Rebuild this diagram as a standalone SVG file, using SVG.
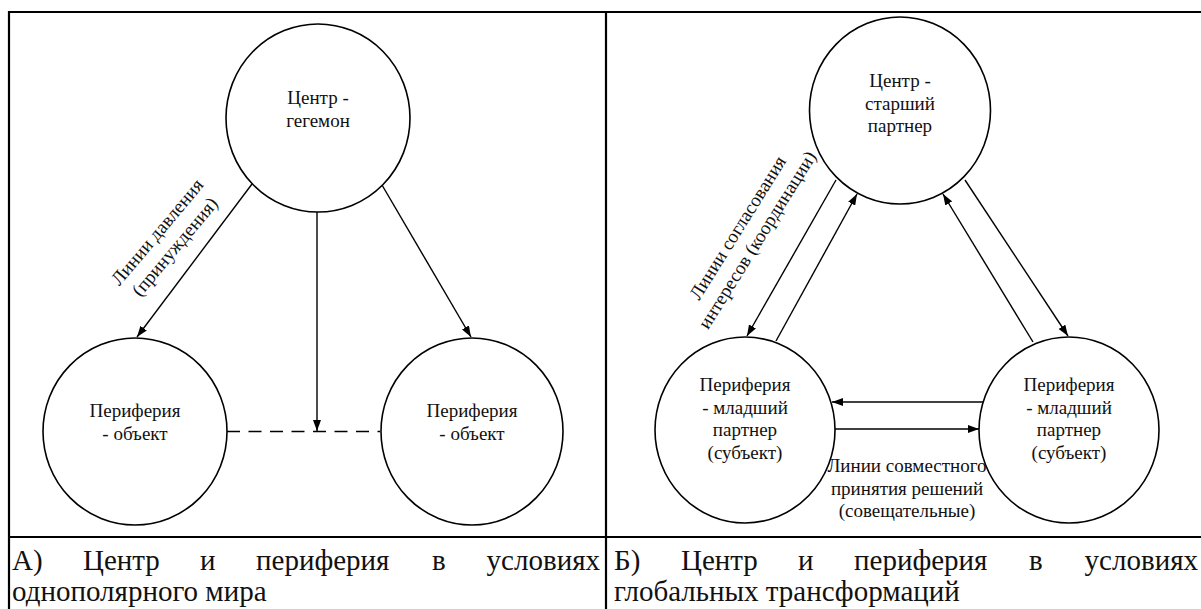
<svg xmlns="http://www.w3.org/2000/svg" width="1201" height="609" viewBox="0 0 1201 609">
<defs>
<marker id="ah" markerUnits="userSpaceOnUse" markerWidth="11" markerHeight="8" refX="11" refY="4" orient="auto">
<path d="M0,0 L11,4 L0,8 z" fill="#000"/>
</marker>
</defs>
<rect width="1201" height="609" fill="#fff"/>
<g id="table" stroke="#000" stroke-width="2.2" fill="none">
<line x1="9" y1="12" x2="1201" y2="12"/>
<line x1="9" y1="11" x2="9" y2="609"/>
<line x1="606" y1="11" x2="606" y2="609"/>
<line x1="9" y1="537" x2="1201" y2="537"/>
</g>
<g id="connectors" stroke="#000" stroke-width="1.4" fill="none">
<line x1="252" y1="184" x2="137" y2="337" marker-end="url(#ah)"/>
<line x1="382" y1="185" x2="471" y2="337" marker-end="url(#ah)"/>
<line x1="317" y1="212" x2="317" y2="431" marker-end="url(#ah)"/>
<line x1="227" y1="431.5" x2="380" y2="431.5" stroke-dasharray="13 8.5" stroke-width="1.6"/>
<line x1="836" y1="180" x2="747" y2="336" marker-end="url(#ah)"/>
<line x1="776" y1="341" x2="857" y2="194" marker-end="url(#ah)"/>
<line x1="1033" y1="342" x2="943" y2="194" marker-end="url(#ah)"/>
<line x1="965" y1="180" x2="1068" y2="336" marker-end="url(#ah)"/>
<line x1="983" y1="402" x2="832" y2="402" marker-end="url(#ah)"/>
<line x1="835" y1="429" x2="979" y2="429" marker-end="url(#ah)"/>
</g>
<g font-size="19" text-anchor="middle" fill="#111">
<g id="a-center">
<ellipse cx="318" cy="118" rx="92" ry="94" fill="#fff" stroke="#000" stroke-width="1.6"/>
<text font-family="Liberation Serif" x="318" y="104">Центр -</text>
<text font-family="Liberation Serif" x="318" y="127">гегемон</text>
</g>
<g id="a-left">
<ellipse cx="135" cy="431.5" rx="92" ry="93.5" fill="#fff" stroke="#000" stroke-width="1.6"/>
<text font-family="Liberation Serif" x="135" y="417">Периферия</text>
<text font-family="Liberation Serif" x="135" y="439.5">- объект</text>
</g>
<g id="a-right">
<ellipse cx="472" cy="431.5" rx="91" ry="93.5" fill="#fff" stroke="#000" stroke-width="1.6"/>
<text font-family="Liberation Serif" x="472" y="417">Периферия</text>
<text font-family="Liberation Serif" x="472" y="439.5">- объект</text>
</g>
<g id="a-label" transform="translate(162,236) rotate(-50)">
<text font-family="Liberation Serif" x="0" y="0">Линии давления</text>
<text font-family="Liberation Serif" x="0" y="23">(принуждения)</text>
</g>
<g id="b-center">
<ellipse cx="900" cy="110.5" rx="90.5" ry="93.5" fill="#fff" stroke="#000" stroke-width="1.6"/>
<text font-family="Liberation Serif" x="900" y="87">Центр -</text>
<text font-family="Liberation Serif" x="900" y="109.5">старший</text>
<text font-family="Liberation Serif" x="900" y="132">партнер</text>
</g>
<g id="b-left">
<ellipse cx="745" cy="430" rx="90" ry="93" fill="#fff" stroke="#000" stroke-width="1.6"/>
<text font-family="Liberation Serif" x="745" y="391">Периферия</text>
<text font-family="Liberation Serif" x="745" y="413.5">- младший</text>
<text font-family="Liberation Serif" x="745" y="436">партнер</text>
<text font-family="Liberation Serif" x="745" y="458.5">(субъект)</text>
</g>
<g id="b-right">
<ellipse cx="1069" cy="430" rx="90" ry="93" fill="#fff" stroke="#000" stroke-width="1.6"/>
<text font-family="Liberation Serif" x="1069" y="391">Периферия</text>
<text font-family="Liberation Serif" x="1069" y="413.5">- младший</text>
<text font-family="Liberation Serif" x="1069" y="436">партнер</text>
<text font-family="Liberation Serif" x="1069" y="458.5">(субъект)</text>
</g>
<g id="b-label-coord" transform="translate(743,231) rotate(-58)">
<text font-family="Liberation Serif" x="0" y="0">Линии согласования</text>
<text font-family="Liberation Serif" x="0" y="23">интересов (координации)</text>
</g>
<g id="b-label-joint">
<text font-family="Liberation Serif" x="907" y="472">Линии совместного</text>
<text font-family="Liberation Serif" x="907" y="494.5">принятия решений</text>
<text font-family="Liberation Serif" x="907" y="517">(совещательные)</text>
</g>
</g>
<g font-size="29" fill="#111">
<g id="caption-a">
<text font-family="Liberation Serif" x="12" y="570">А)</text>
<text font-family="Liberation Serif" x="83" y="570">Центр</text>
<text font-family="Liberation Serif" x="200" y="570">и</text>
<text font-family="Liberation Serif" x="256" y="570">периферия</text>
<text font-family="Liberation Serif" x="432" y="570">в</text>
<text font-family="Liberation Serif" x="600" y="570" text-anchor="end">условиях</text>
<text font-family="Liberation Serif" x="12" y="601">однополярного мира</text>
</g>
<g id="caption-b">
<text font-family="Liberation Serif" x="614" y="570">Б)</text>
<text font-family="Liberation Serif" x="681" y="570">Центр</text>
<text font-family="Liberation Serif" x="798" y="570">и</text>
<text font-family="Liberation Serif" x="854" y="570">периферия</text>
<text font-family="Liberation Serif" x="1029" y="570">в</text>
<text font-family="Liberation Serif" x="1198" y="570" text-anchor="end">условиях</text>
<text font-family="Liberation Serif" x="614" y="601">глобальных трансформаций</text>
</g>
</g>
</svg>
